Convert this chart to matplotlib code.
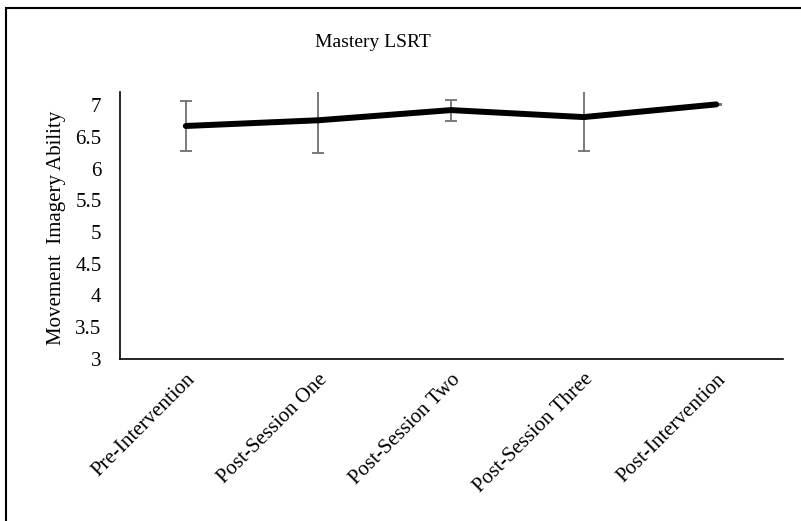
import matplotlib
matplotlib.use("Agg")
import matplotlib.pyplot as plt
from matplotlib.patches import Rectangle

# dados
stages = ["Pre-Intervention", "Post-Session One", "Post-Session Two",
          "Post-Session Three", "Post-Intervention"]
means = [6.67, 6.76, 6.92, 6.81, 7.01]
errors = [0.39, 0.52, 0.165, 0.535, 0.01]
y_ticks = [3, 3.5, 4, 4.5, 5, 5.5, 6, 6.5, 7]

plt.rcParams['font.family'] = ['Liberation Serif', 'DejaVu Serif']

fig = plt.figure(figsize=(8.01, 5.21), dpi=100)
ax = fig.add_axes([0.1492, 0.311, 0.8278, 0.513])

x = list(range(len(stages)))

# barras de erro atrás da linha
ax.errorbar(x, means, yerr=errors, fmt='none', ecolor='#707070',
            elinewidth=1.3, capsize=4.3, capthick=1.3, zorder=2)
ax.plot(x, means, color='black', linewidth=4.3, solid_capstyle='round', zorder=3)

ax.set_xlim(-0.5, 4.5)
ax.set_ylim(3, 7.21)
ax.set_yticks(y_ticks)
ax.set_yticklabels([f"{v:g}" for v in y_ticks], fontsize=15)
ax.set_xticks(x)
ax.set_xticklabels(stages, fontsize=15, rotation=45, ha='right', va='top',
                   rotation_mode='anchor')
ax.tick_params(axis='x', length=0, pad=8)
ax.tick_params(axis='y', length=0, pad=13)

ax.spines['top'].set_visible(False)
ax.spines['right'].set_visible(False)
ax.spines['left'].set_linewidth(1.2)
ax.spines['bottom'].set_linewidth(1.2)

ax.set_ylabel("Movement  Imagery Ability", fontsize=15)
ax.yaxis.set_label_coords(-0.08, 0.49)

fig.text(0.465, 0.918, "Mastery LSRT", fontsize=14, ha='center', va='center')

# moldura da figura (cortada à direita e embaixo)
fig.patches.append(Rectangle((6 / 801, -0.1), 1.1, 1.1 - 8 / 521,
                             transform=fig.transFigure, fill=False,
                             edgecolor='black', linewidth=1.5))

plt.savefig("out.png", dpi=100)
